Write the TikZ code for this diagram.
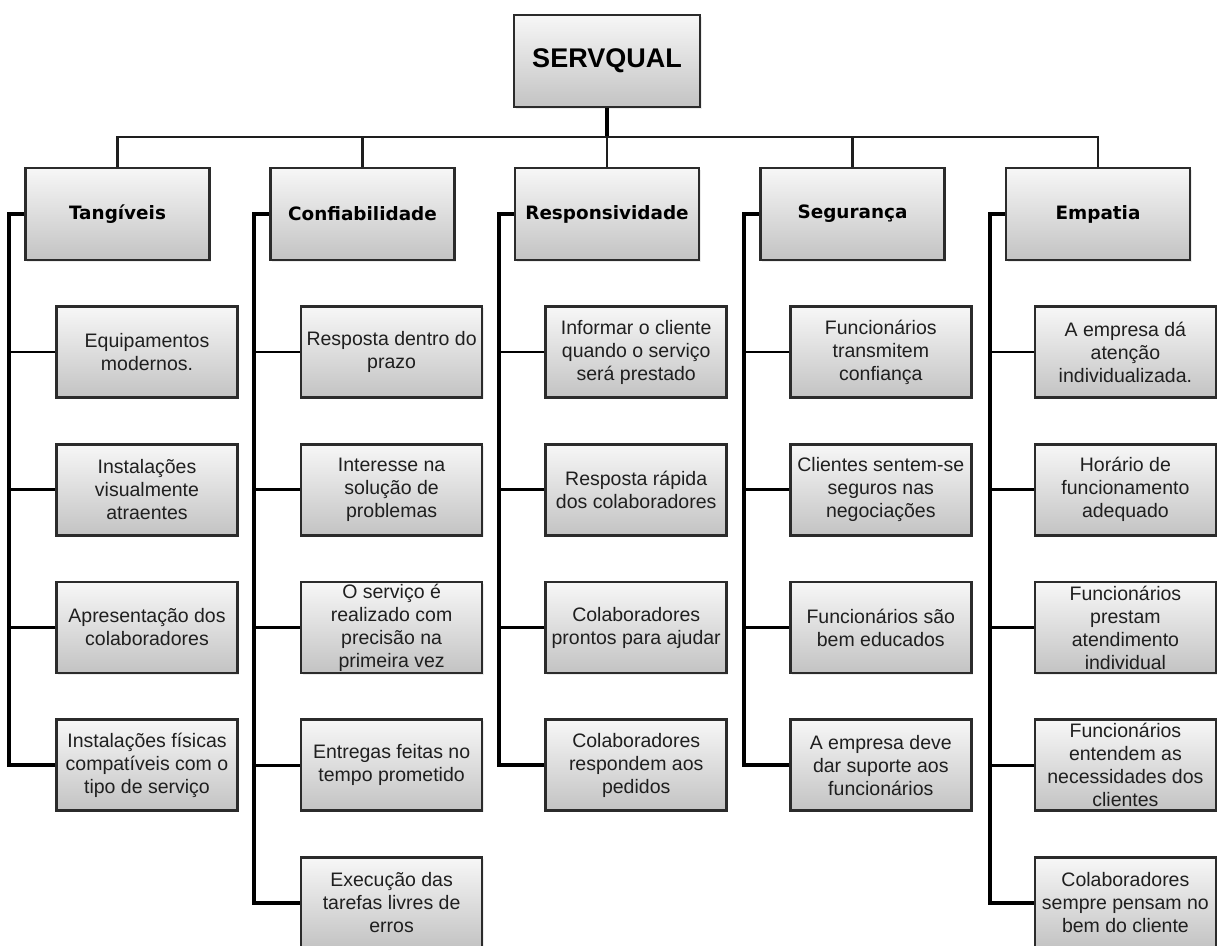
\documentclass[tikz,border=0pt]{standalone}
\usepackage{fontspec}
\setmainfont{Liberation Sans}
\newfontfamily\catfont{DejaVu Sans}
\usetikzlibrary{shadows}
\definecolor{boxtop}{HTML}{F7F7F7}
\definecolor{boxbot}{HTML}{C3C3C3}
\definecolor{boxline}{HTML}{2B2B2B}
\definecolor{connline}{HTML}{1E1E1E}
\begin{document}
\begin{tikzpicture}[x=1pt,y=-1pt,
  box/.style={rectangle, draw=boxline, line width=2.6pt, top color=boxtop, bottom color=boxbot,
    inner sep=0pt, align=center,
    drop shadow={shadow xshift=1.5pt, shadow yshift=-1.5pt, opacity=0.15}},
  rootbox/.style={box, minimum width=186pt, minimum height=92pt,
    font=\fontsize{27}{32}\selectfont\bfseries},
  catbox/.style={box, minimum width=184pt, minimum height=92pt,
    font=\catfont\fontsize{18.4}{22}\selectfont\bfseries},
  leafbox/.style={box, minimum width=181pt, minimum height=91pt,
    font=\fontsize{19.5}{23}\selectfont, text=black!88},
  busline/.style={draw=connline, line width=2.6pt},
  stemline/.style={draw=black, line width=3.6pt},
  spineline/.style={draw=black, line width=3.6pt},
  branchline/.style={draw=black, line width=2.8pt}]
\useasboundingbox (0,0) rectangle (1217,945);
\clip (0,0) rectangle (1217,945);

% root and categories
\node[rootbox] (root) at (607,61) {SERVQUAL};
\node[catbox] (c1) at (117.5,214) {Tangíveis};
\node[catbox] (c2) at (362.5,214) {Confiabilidade};
\node[catbox] (c3) at (607,214) {Responsividade};
\node[catbox] (c4) at (852.5,214) {Segurança};
\node[catbox] (c5) at (1098,214) {Empatia};

% Tangíveis
\node[leafbox] (t1) at (147,352) {Equipamentos\\modernos.};
\node[leafbox] (t2) at (147,489.75) {Instalações\\visualmente\\atraentes};
\node[leafbox] (t3) at (147,627.5) {Apresentação dos\\colaboradores};
\node[leafbox] (t4) at (147,765.25) {Instalações físicas\\compatíveis com o\\tipo de serviço};

% Confiabilidade
\node[leafbox] (f1) at (391.6,352) {Resposta dentro do\\prazo};
\node[leafbox] (f2) at (391.6,489.75) {Interesse na\\solução de\\problemas};
\node[leafbox] (f3) at (391.6,627.5) {O serviço é\\realizado com\\precisão na\\primeira vez};
\node[leafbox] (f4) at (391.6,765.25) {Entregas feitas no\\tempo prometido};
\node[leafbox] (f5) at (391.6,903) {Execução das\\tarefas livres de\\erros};

% Responsividade
\node[leafbox] (r1) at (636.2,352) {Informar o cliente\\quando o serviço\\será prestado};
\node[leafbox] (r2) at (636.2,489.75) {Resposta rápida\\dos colaboradores};
\node[leafbox] (r3) at (636.2,627.5) {Colaboradores\\prontos para ajudar};
\node[leafbox] (r4) at (636.2,765.25) {Colaboradores\\respondem aos\\pedidos};

% Segurança
\node[leafbox] (g1) at (880.8,352) {Funcionários\\transmitem\\confiança};
\node[leafbox] (g2) at (880.8,489.75) {Clientes sentem-se\\seguros nas\\negociações};
\node[leafbox] (g3) at (880.8,627.5) {Funcionários são\\bem educados};
\node[leafbox] (g4) at (880.8,765.25) {A empresa deve\\dar suporte aos\\funcionários};

% Empatia
\node[leafbox] (e1) at (1125.4,352) {A empresa dá\\atenção\\individualizada.};
\node[leafbox] (e2) at (1125.4,489.75) {Horário de\\funcionamento\\adequado};
\node[leafbox] (e3) at (1125.4,627.5) {Funcionários\\prestam\\atendimento\\individual};
\node[leafbox] (e4) at (1125.4,765.25) {Funcionários\\entendem as\\necessidades dos\\clientes};
\node[leafbox] (e5) at (1125.4,903) {Colaboradores\\sempre pensam no\\bem do cliente};

% top-level connectors
\coordinate (bus) at (607,137);
\draw[stemline] (root.south) -- (bus);
\draw[busline] (c1.north) |- (bus) -| (c5.north);
\draw[busline] (bus) -- (c3.north);
\draw[busline] (c2.north) -- (c2.north |- bus);
\draw[busline] (c4.north) -- (c4.north |- bus);

% spines
\draw[spineline] (c1.west) -- ++(-15,0) coordinate (s1) |- (t4.west);
\draw[spineline] (c2.west) -- ++(-15,0) coordinate (s2) |- (f5.west);
\draw[spineline] (c3.west) -- ++(-15,0) coordinate (s3) |- (r4.west);
\draw[spineline] (c4.west) -- ++(-15,0) coordinate (s4) |- (g4.west);
\draw[spineline] (c5.west) -- ++(-15,0) coordinate (s5) |- (e5.west);

\foreach \n in {t1,t2,t3} \draw[branchline] (\n.west) -- (\n.west -| s1);
\foreach \n in {f1,f2,f3,f4} \draw[branchline] (\n.west) -- (\n.west -| s2);
\foreach \n in {r1,r2,r3} \draw[branchline] (\n.west) -- (\n.west -| s3);
\foreach \n in {g1,g2,g3} \draw[branchline] (\n.west) -- (\n.west -| s4);
\foreach \n in {e1,e2,e3,e4} \draw[branchline] (\n.west) -- (\n.west -| s5);
\end{tikzpicture}
\end{document}
